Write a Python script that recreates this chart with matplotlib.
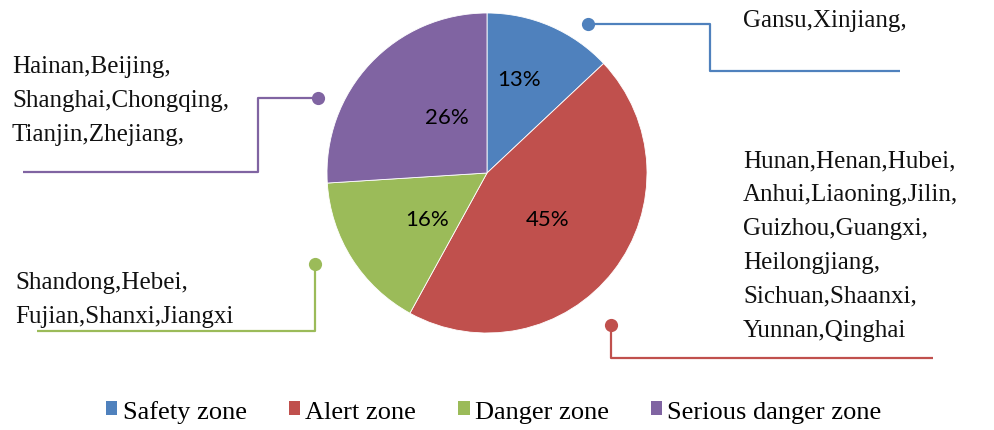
import matplotlib
matplotlib.use("Agg")
import matplotlib.pyplot as plt
from matplotlib.patches import Patch

# ---- data ----
categories = ["Safety zone", "Alert zone", "Danger zone", "Serious danger zone"]
shares = [13, 45, 16, 26]
pct_labels = ["13%", "45%", "16%", "26%"]
provinces = [
    "Gansu,Xinjiang,",
    "Hunan,Henan,Hubei,\nAnhui,Liaoning,Jilin,\nGuizhou,Guangxi,\nHeilongjiang,\nSichuan,Shaanxi,\nYunnan,Qinghai",
    "Shandong,Hebei,\nFujian,Shanxi,Jiangxi",
    "Hainan,Beijing,\nShanghai,Chongqing,\nTianjin,Zhejiang,",
]
colors = ["#4F81BD", "#C0504D", "#9BBB59", "#8064A2"]

W, H = 995, 431
fig = plt.figure(figsize=(W / 100, H / 100), dpi=100)
ax = fig.add_axes([0, 0, 1, 1])

def Y(y):
    return H - y

wedges, _ = ax.pie(shares, colors=colors, startangle=90, counterclock=False,
                   center=(487, Y(174)), radius=160,
                   wedgeprops=dict(edgecolor="white", linewidth=0.6))

ax.set_xlim(0, W)
ax.set_ylim(0, H)
ax.set_aspect("equal")
ax.axis("off")

# percentage labels
pct_pos = [(519, 80), (548, 220), (427, 220), (447, 118)]
for (x, y), t in zip(pct_pos, pct_labels):
    ax.text(x, Y(y), t, fontsize=16, family=["Lato", "DejaVu Sans"],
            ha="center", va="center", color="black")

serif = "Liberation Serif"

# leader lines
leaders = [
    [(588, 25), (710, 25), (710, 72), (900, 72)],
    [(611, 326), (611, 359), (933, 359)],
    [(315, 265), (315, 332), (37, 332)],
    [(318, 99), (258, 99), (258, 173), (23, 173)],
]
for pts, c in zip(leaders, colors):
    xs = [p[0] for p in pts]
    ys = [Y(p[1]) for p in pts]
    ax.plot(xs, ys, color=c, lw=1.6, solid_capstyle="butt")
    ax.plot(xs[0], ys[0], "o", color=c, markersize=9.5, markeredgewidth=0)

# province text blocks (left x, vertical center)
text_pos = [(743, 21), (743, 246), (15, 300), (12, 101)]
for (x, y), t in zip(text_pos, provinces):
    ax.text(x, Y(y), t, fontsize=18, family=serif, ha="left", va="center",
            linespacing=1.7, color="#111111")

handles = [Patch(facecolor=c, edgecolor="none") for c in colors]
ax.legend(handles, categories, loc="center", bbox_to_anchor=(0.4965, 0.044),
          ncol=4, frameon=False, prop={"family": serif, "size": 19},
          handlelength=0.42, handleheight=0.42, handletextpad=0.2,
          columnspacing=1.6, borderpad=0)

fig.savefig("out.png", dpi=100)
